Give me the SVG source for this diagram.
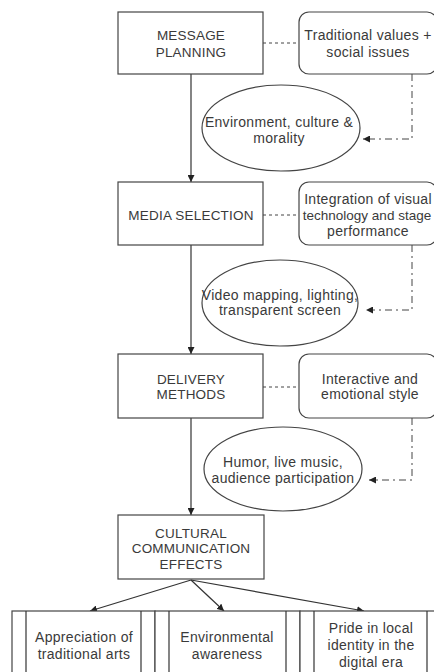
<svg xmlns="http://www.w3.org/2000/svg" width="434" height="672" viewBox="0 0 434 672">
<defs>
<marker id="ah" viewBox="0 0 10 10" refX="10" refY="5" markerWidth="7" markerHeight="7" orient="auto" markerUnits="userSpaceOnUse">
<path d="M0,0 L10,5 L0,10 z" fill="#222"/>
</marker>
<style>
.box{fill:#fff;stroke:#444;stroke-width:1.2}
.t{font-family:"Liberation Sans",Arial,sans-serif;font-size:14px;letter-spacing:0.3px;fill:#3a3a3a;text-anchor:middle}
.u{font-size:13.5px;letter-spacing:0.2px}
.n{font-size:13.5px;letter-spacing:0px}
.c{fill:none;stroke:#333;stroke-width:1.2}
.d{fill:none;stroke:#444;stroke-width:1;stroke-dasharray:3 3}
.dv{fill:none;stroke:#444;stroke-width:1;stroke-dasharray:7 4 2 4}
</style>
</defs>
<rect width="434" height="672" fill="#fff"/>
<g id="connectors">
<line class="c" x1="191" y1="74" x2="191" y2="182" marker-end="url(#ah)"/>
<line class="c" x1="191" y1="245" x2="191" y2="354" marker-end="url(#ah)"/>
<line class="c" x1="191" y1="418" x2="191" y2="515" marker-end="url(#ah)"/>
<line class="c" x1="191" y1="580" x2="90" y2="611" marker-end="url(#ah)"/>
<line class="c" x1="191" y1="580" x2="224" y2="611" marker-end="url(#ah)"/>
<line class="c" x1="191" y1="580" x2="364" y2="611" marker-end="url(#ah)"/>
<line class="d" x1="263" y1="43" x2="299" y2="43"/>
<line class="d" x1="263" y1="215" x2="299" y2="215"/>
<line class="d" x1="263" y1="387" x2="299" y2="387"/>
<path class="dv" d="M412,74 V139 H363" marker-end="url(#ah)"/>
<path class="dv" d="M412,245 V310 H366" marker-end="url(#ah)"/>
<path class="dv" d="M412,418 V480 H369" marker-end="url(#ah)"/>
</g>
<g id="message-planning">
<rect class="box" x="118" y="12" width="145" height="62"/>
<text class="t u" x="191" y="40">MESSAGE</text>
<text class="t u" x="191" y="57">PLANNING</text>
</g>
<g id="traditional-values">
<rect class="box" x="299" y="12" width="138" height="62" rx="10"/>
<text class="t" x="368" y="40">Traditional values +</text>
<text class="t" x="368" y="57">social issues</text>
</g>
<g id="environment-ellipse">
<ellipse class="box" cx="281" cy="128" rx="79" ry="43"/>
<text class="t" x="279" y="127">Environment, culture &amp;</text>
<text class="t" x="279" y="143">morality</text>
</g>
<g id="media-selection">
<rect class="box" x="118" y="182" width="145" height="63"/>
<text class="t u" x="191" y="220">MEDIA SELECTION</text>
</g>
<g id="integration">
<rect class="box" x="299" y="182" width="138" height="63" rx="10"/>
<text class="t" x="368" y="204">Integration of visual</text>
<text class="t n" x="367" y="220">technology and stage</text>
<text class="t" x="368" y="236">performance</text>
</g>
<g id="video-ellipse">
<ellipse class="box" cx="280" cy="303" rx="78" ry="43"/>
<text class="t" x="280" y="300">Video mapping, lighting,</text>
<text class="t" x="280" y="315">transparent screen</text>
</g>
<g id="delivery-methods">
<rect class="box" x="118" y="354" width="145" height="64"/>
<text class="t u" x="191" y="384">DELIVERY</text>
<text class="t u" x="191" y="399">METHODS</text>
</g>
<g id="interactive">
<rect class="box" x="299" y="354" width="138" height="64" rx="10"/>
<text class="t" x="370" y="384">Interactive and</text>
<text class="t" x="370" y="399">emotional style</text>
</g>
<g id="humor-ellipse">
<ellipse class="box" cx="283" cy="469" rx="79" ry="42"/>
<text class="t" x="283" y="467">Humor, live music,</text>
<text class="t" x="283" y="483">audience participation</text>
</g>
<g id="cultural-effects">
<rect class="box" x="118" y="515" width="146" height="64"/>
<text class="t u" x="191" y="538">CULTURAL</text>
<text class="t u" x="191" y="553">COMMUNICATION</text>
<text class="t u" x="191" y="569">EFFECTS</text>
</g>
<g id="appreciation">
<rect class="box" x="12" y="611" width="143" height="80"/>
<line class="c" x1="26" y1="611" x2="26" y2="691"/>
<line class="c" x1="141" y1="611" x2="141" y2="691"/>
<text class="t" x="84" y="642">Appreciation of</text>
<text class="t" x="84" y="659">traditional arts</text>
</g>
<g id="environmental-awareness">
<rect class="box" x="155" y="611" width="145" height="80"/>
<line class="c" x1="169" y1="611" x2="169" y2="691"/>
<line class="c" x1="286" y1="611" x2="286" y2="691"/>
<text class="t" x="227" y="642">Environmental</text>
<text class="t" x="227" y="659">awareness</text>
</g>
<g id="pride">
<rect class="box" x="300" y="611" width="141" height="80"/>
<line class="c" x1="314" y1="611" x2="314" y2="691"/>
<line class="c" x1="427" y1="611" x2="427" y2="691"/>
<text class="t" x="371" y="633">Pride in local</text>
<text class="t" x="371" y="650">identity in the</text>
<text class="t" x="371" y="667">digital era</text>
</g>
</svg>
